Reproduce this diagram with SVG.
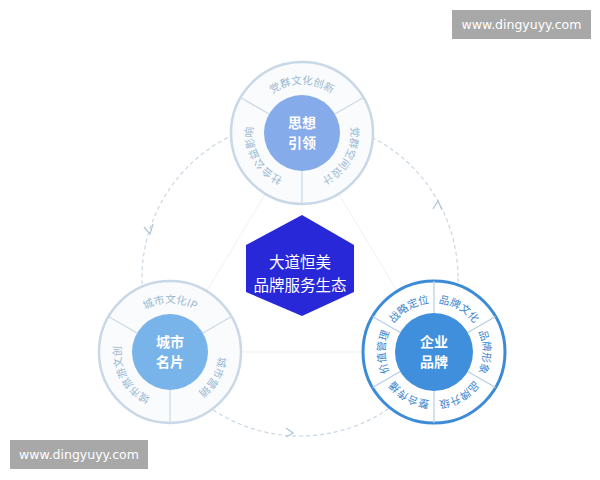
<svg xmlns="http://www.w3.org/2000/svg" width="600" height="480" viewBox="0 0 600 480">
<defs>
<style>
.seg{font-family:"Noto Sans CJK SC","Liberation Sans",sans-serif;font-size:10.5px;}
.lt{fill:#9bb8d2;}
.dk{fill:#3c86cf;}
.ctr{font-family:"Noto Sans CJK SC","Liberation Sans",sans-serif;font-size:14px;font-weight:bold;fill:#ffffff;text-anchor:middle;}
.hx{font-family:"Noto Sans CJK SC","Liberation Sans",sans-serif;font-size:15.5px;fill:#ffffff;text-anchor:middle;}
.div{stroke:#cbd8e4;stroke-width:1.2;}
.divd{stroke:#b7cde3;stroke-width:1.2;}
.wm{fill:#a8a8a8;}
.wmt{font-family:"DejaVu Sans","Liberation Sans",sans-serif;font-size:12.5px;fill:#ffffff;text-anchor:middle;}
</style>
<path id="t1" d="M259.6,108.5 A49,49 0 0,1 344.4,108.5"/>
<path id="t2" d="M344.4,108.5 A49,49 0 0,1 302,182"/>
<path id="t3" d="M302,182 A49,49 0 0,1 259.6,108.5"/>
<path id="l1" d="M127.6,327.5 A49,49 0 0,1 212.4,327.5"/>
<path id="l2" d="M212.4,327.5 A49,49 0 0,1 170,401"/>
<path id="l3" d="M170,401 A49,49 0 0,1 127.6,327.5"/>
<path id="r1" d="M391.6,327.5 A49,49 0 0,1 434,303"/>
<path id="r2" d="M434,303 A49,49 0 0,1 476.4,327.5"/>
<path id="r3" d="M476.4,327.5 A49,49 0 0,1 476.4,376.5"/>
<path id="r4" d="M476.4,376.5 A49,49 0 0,1 434,401"/>
<path id="r5" d="M434,401 A49,49 0 0,1 391.6,376.5"/>
<path id="r6" d="M391.6,376.5 A49,49 0 0,1 391.6,327.5"/>
</defs>
<rect width="600" height="480" fill="#ffffff"/>
<g id="connectors">
<polygon points="302,133 170,352 434,352" fill="none" stroke="#edf1f5" stroke-width="1"/>
<circle cx="300" cy="278" r="158" fill="none" stroke="#c9d7e4" stroke-width="1.2" stroke-dasharray="4 3"/>
<path d="M144,227 L150,234 L153,224" fill="none" stroke="#b3c6d8" stroke-width="1.3"/>
<path d="M433,209 L438,201 L442,210" fill="none" stroke="#b3c6d8" stroke-width="1.3"/>
<path d="M286,428 L293,433 L286,437" fill="none" stroke="#b3c6d8" stroke-width="1.3"/>
</g>
<g id="top">
<circle cx="302" cy="133" r="71" fill="#f9fbfd" stroke="#c8d8e7" stroke-width="2.5"/>
<line class="div" x1="269.1" y1="114" x2="240.5" y2="97.5"/>
<line class="div" x1="334.9" y1="114" x2="363.5" y2="97.5"/>
<line class="div" x1="302" y1="171" x2="302" y2="204"/>
<circle cx="302" cy="133" r="38" fill="#85abea"/>
<text class="ctr" x="302" y="128">思想</text>
<text class="ctr" x="302" y="148">引领</text>
<text class="seg lt"><textPath href="#t1" startOffset="50%" text-anchor="middle">党群文化创新</textPath></text>
<text class="seg lt"><textPath href="#t2" startOffset="50%" text-anchor="middle">党群空间设计</textPath></text>
<text class="seg lt"><textPath href="#t3" startOffset="50%" text-anchor="middle">社会公益影响</textPath></text>
</g>
<g id="left">
<circle cx="170" cy="352" r="71" fill="#f9fbfd" stroke="#c8d8e7" stroke-width="2.5"/>
<line class="div" x1="137.1" y1="333" x2="108.5" y2="316.5"/>
<line class="div" x1="202.9" y1="333" x2="231.5" y2="316.5"/>
<line class="div" x1="170" y1="390" x2="170" y2="423"/>
<circle cx="170" cy="352" r="38" fill="#78b4e9"/>
<text class="ctr" x="170" y="347">城市</text>
<text class="ctr" x="170" y="367">名片</text>
<text class="seg lt"><textPath href="#l1" startOffset="50%" text-anchor="middle">城市文化IP</textPath></text>
<text class="seg lt"><textPath href="#l2" startOffset="50%" text-anchor="middle">城市营销</textPath></text>
<text class="seg lt"><textPath href="#l3" startOffset="50%" text-anchor="middle">城市旅游文创</textPath></text>
</g>
<g id="right">
<circle cx="434" cy="352" r="71" fill="#ffffff" stroke="#3d8bd6" stroke-width="3"/>
<line class="divd" x1="434" y1="314" x2="434" y2="281"/>
<line class="divd" x1="466.9" y1="333" x2="495.5" y2="316.5"/>
<line class="divd" x1="466.9" y1="371" x2="495.5" y2="387.5"/>
<line class="divd" x1="434" y1="390" x2="434" y2="423"/>
<line class="divd" x1="401.1" y1="371" x2="372.5" y2="387.5"/>
<line class="divd" x1="401.1" y1="333" x2="372.5" y2="316.5"/>
<circle cx="434" cy="352" r="39" fill="#3f8fdd"/>
<text class="ctr" x="434" y="347">企业</text>
<text class="ctr" x="434" y="367">品牌</text>
<text class="seg dk"><textPath href="#r1" startOffset="50%" text-anchor="middle">战略定位</textPath></text>
<text class="seg dk"><textPath href="#r2" startOffset="50%" text-anchor="middle">品牌文化</textPath></text>
<text class="seg dk"><textPath href="#r3" startOffset="50%" text-anchor="middle">品牌形象</textPath></text>
<text class="seg dk"><textPath href="#r4" startOffset="50%" text-anchor="middle">品牌升级</textPath></text>
<text class="seg dk"><textPath href="#r5" startOffset="50%" text-anchor="middle">整合传播</textPath></text>
<text class="seg dk"><textPath href="#r6" startOffset="50%" text-anchor="middle">价值管理</textPath></text>
</g>
<g id="center">
<polygon points="302,215 354,245 354,292 302,316 246,292 246,245" fill="#2828d8"/>
<text class="hx" x="300" y="268">大道恒美</text>
<text class="hx" x="300" y="291">品牌服务生态</text>
</g>
<g id="wm1">
<rect class="wm" x="452" y="10" width="139" height="29"/>
<text class="wmt" x="521.5" y="29">www.dingyuyy.com</text>
</g>
<g id="wm2">
<rect class="wm" x="10" y="440" width="138" height="29"/>
<text class="wmt" x="79" y="459">www.dingyuyy.com</text>
</g>
</svg>
